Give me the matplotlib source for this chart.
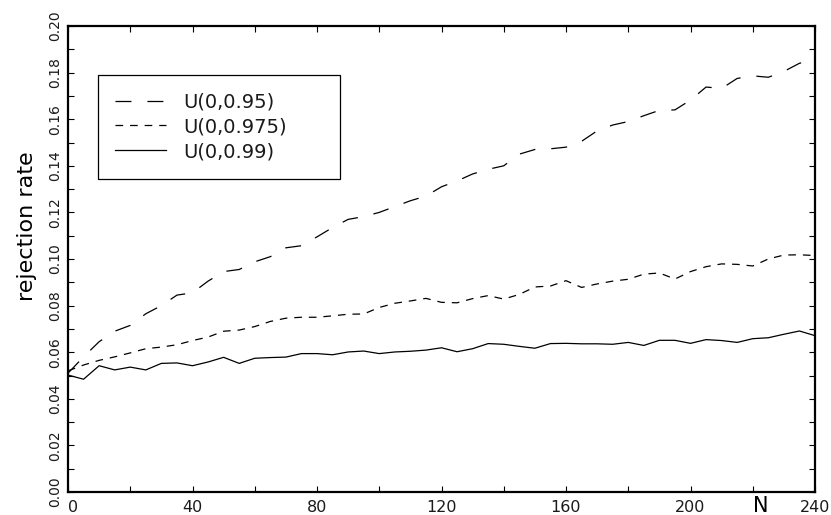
import matplotlib
matplotlib.use('Agg')
import matplotlib.pyplot as plt
from matplotlib import font_manager
from matplotlib.ticker import MultipleLocator

# tamaños de muestra
N = list(range(0, 245, 5))

# tasa de rechazo
rate_095 = [0.0510, 0.0580, 0.0645, 0.0690, 0.0715, 0.0765, 0.0800, 0.0845, 0.0855, 0.0905,
            0.0946, 0.0955, 0.0988, 0.1010, 0.1048, 0.1057, 0.1095, 0.1135, 0.1170, 0.1182,
            0.1200, 0.1225, 0.1250, 0.1270, 0.1310, 0.1335, 0.1365, 0.1385, 0.1400, 0.1450,
            0.1470, 0.1473, 0.1480, 0.1505, 0.1550, 0.1575, 0.1590, 0.1615, 0.1638, 0.1640,
            0.1682, 0.1738, 0.1732, 0.1775, 0.1786, 0.1780, 0.1805, 0.1840, 0.1855]
rate_0975 = [0.0520, 0.0545, 0.0565, 0.0580, 0.0597, 0.0615, 0.0622, 0.0632, 0.0650, 0.0665,
             0.0690, 0.0695, 0.0710, 0.0732, 0.0746, 0.0750, 0.0750, 0.0756, 0.0763, 0.0764,
             0.0792, 0.0810, 0.0820, 0.0831, 0.0814, 0.0812, 0.0830, 0.0843, 0.0828, 0.0848,
             0.0880, 0.0884, 0.0907, 0.0878, 0.0893, 0.0905, 0.0913, 0.0935, 0.0940, 0.0914,
             0.0946, 0.0967, 0.0979, 0.0977, 0.0970, 0.1000, 0.1017, 0.1018, 0.1015]
rate_099 = [0.0502, 0.0484, 0.0542, 0.0524, 0.0536, 0.0524, 0.0552, 0.0554, 0.0542, 0.0558,
            0.0578, 0.0552, 0.0574, 0.0577, 0.0579, 0.0594, 0.0594, 0.0589, 0.0601, 0.0605,
            0.0594, 0.0601, 0.0604, 0.0609, 0.0619, 0.0602, 0.0615, 0.0637, 0.0634, 0.0625,
            0.0617, 0.0637, 0.0638, 0.0636, 0.0636, 0.0634, 0.0642, 0.0629, 0.0651, 0.0651,
            0.0638, 0.0654, 0.0650, 0.0642, 0.0658, 0.0662, 0.0677, 0.0691, 0.0671]

labels = ['U(0,0.95)', 'U(0,0.975)', 'U(0,0.99)']

plt.rcParams['font.family'] = ['DejaVu Sans']
plt.rcParams['lines.scale_dashes'] = False
plt.rcParams['text.color'] = '#1a1a1a'
plt.rcParams['xtick.labelcolor'] = '#1a1a1a'
plt.rcParams['ytick.labelcolor'] = '#1a1a1a'

# fuente estrecha para las etiquetas del eje y, si existe
nombres = {f.name for f in font_manager.fontManager.ttflist}
fuente_y = 'Liberation Sans Narrow' if 'Liberation Sans Narrow' in nombres else 'DejaVu Sans'
tam_y = 13 if fuente_y == 'Liberation Sans Narrow' else 10

fig = plt.figure(figsize=(8.31, 5.15), dpi=100)
ax = fig.add_axes([68 / 831, 1 - 492 / 515, 747 / 831, 466 / 515])

ax.plot(N, rate_095, color='black', lw=0.9, dashes=(11.5, 11.5), label=labels[0])
ax.plot(N, rate_0975, color='black', lw=0.9, dashes=(5.5, 5.0), label=labels[1])
ax.plot(N, rate_099, color='black', lw=0.9, label=labels[2])

ax.set_xlim(0, 240)
ax.set_ylim(0, 0.2)

ax.xaxis.set_major_locator(MultipleLocator(40))
ax.xaxis.set_minor_locator(MultipleLocator(20))
ax.yaxis.set_major_locator(MultipleLocator(0.02))
ax.yaxis.set_minor_locator(MultipleLocator(0.01))
ax.tick_params(which='both', direction='in', top=True, right=True, length=4, width=0.8)
ax.tick_params(axis='x', pad=6, labelsize=11.5)
ax.tick_params(axis='y', pad=4)

ax.set_xticks(range(0, 241, 40))
ax.set_xticklabels([str(v) for v in range(0, 241, 40)])
ax.get_xticklabels()[0].set_horizontalalignment('left')

yt = [i * 0.02 for i in range(11)]
ax.set_yticks(yt)
ax.set_yticklabels(['%.2f' % v for v in yt], rotation=90, va='center',
                   family=fuente_y, fontsize=tam_y)

for s in ax.spines.values():
    s.set_linewidth(1.6)

ax.set_ylabel('rejection rate', fontsize=16)
ax.yaxis.set_label_coords(-0.041, 0.571)
ax.set_xlabel('N', fontsize=15)
ax.xaxis.set_label_coords(222.5 / 240, -0.008)
ax.xaxis.label.set_verticalalignment('top')

leg = ax.legend(loc='upper left', bbox_to_anchor=(0.040, 0.5, 0.324, 0.395),
                mode='expand', borderaxespad=0, fontsize=14, fancybox=False,
                framealpha=1, edgecolor='black', borderpad=0.9, labelspacing=0.3,
                handlelength=2.6, handletextpad=0.88)
leg.get_frame().set_linewidth(0.9)

fig.savefig('out.png', dpi=100)
